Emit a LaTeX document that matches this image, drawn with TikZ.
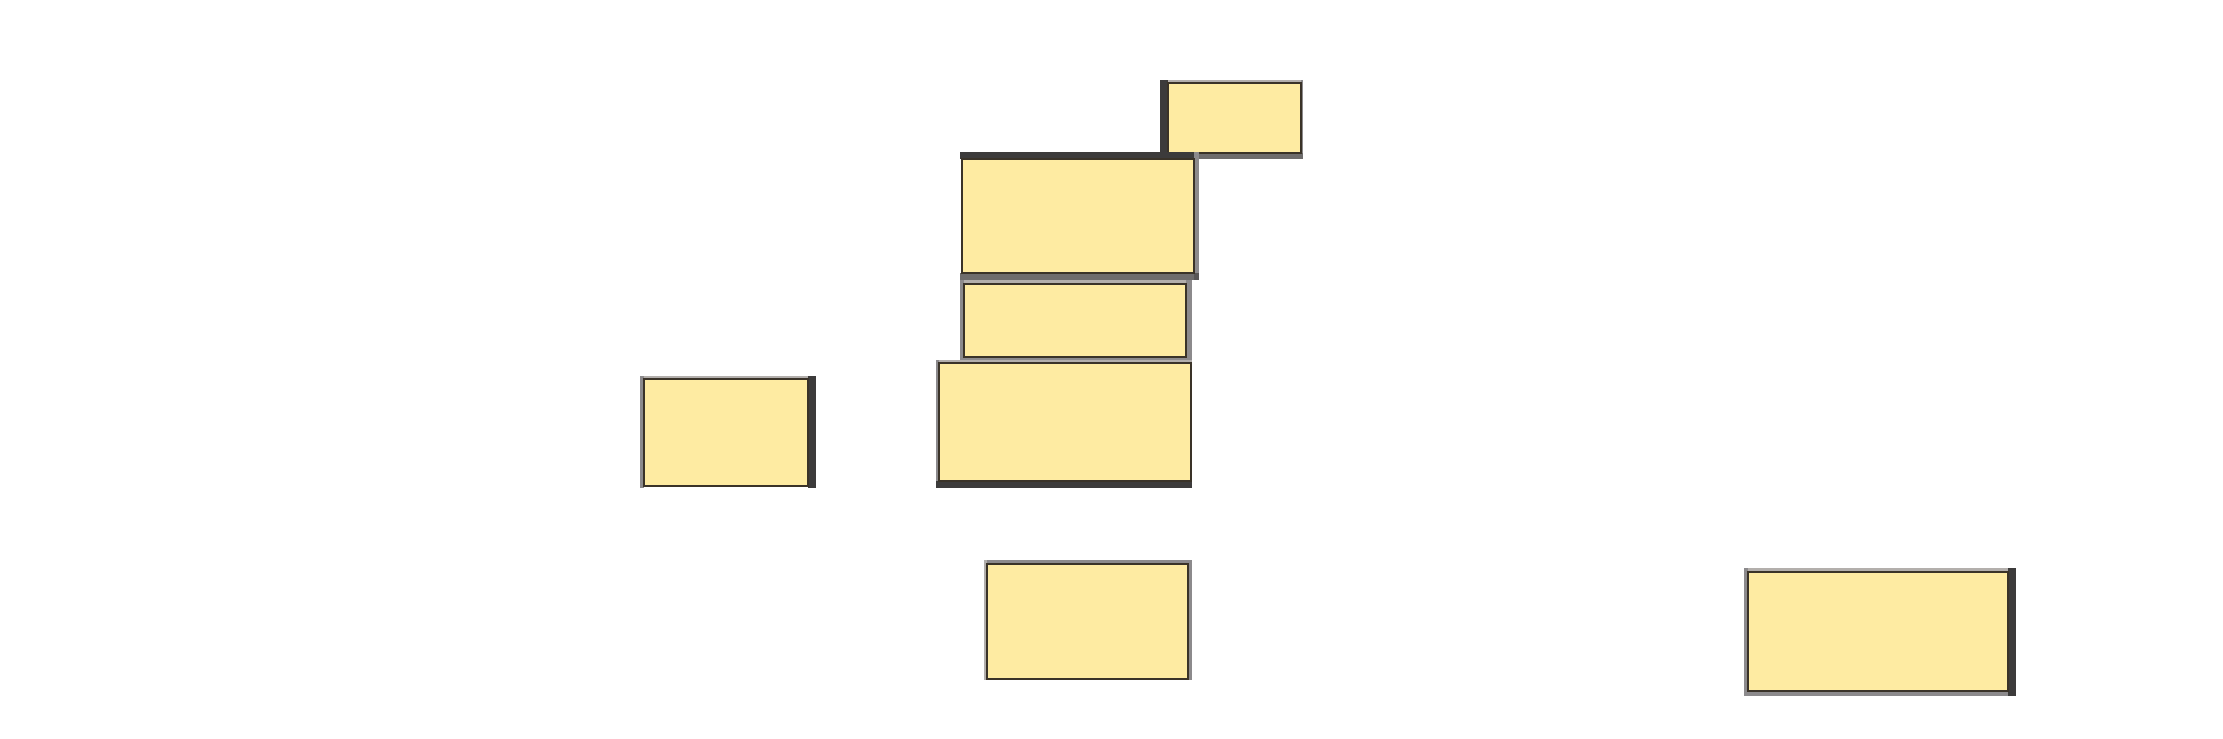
\documentclass[tikz,border=0pt]{standalone}
\usepackage{tikz}
\definecolor{tileyellow}{HTML}{FEEBA2}
\definecolor{tileedge}{HTML}{3A3328}
\definecolor{bandlight}{HTML}{B3AFAC}
\definecolor{bandmid}{HTML}{8C8A8C}
\definecolor{bandgrey}{HTML}{6E6C6C}
\definecolor{banddark}{HTML}{3C3B3B}
\tikzset{
  every picture/.style={line join=miter},
  tile/.style={fill=tileyellow, draw=tileedge, line width=0.6pt},
  lightband/.style={fill=bandlight},
  midband/.style={fill=bandmid},
  greyband/.style={fill=bandgrey},
  darkband/.style={fill=banddark},
}

\begin{document}
\begin{tikzpicture}[x=0.01cm,y=-0.01cm]
\useasboundingbox(0,0) rectangle (2223,739);
% top small tile
\fill[lightband](1160,80) rectangle (1303,83);
\fill[midband](1301,80) rectangle (1303,159);
\fill[greyband](1160,153) rectangle (1303,159);
\fill[darkband](1160,80) rectangle (1168,159);
\draw[tile](1168,83) rectangle (1301,153);
% upper large tile
\fill[darkband](960,152) rectangle (1199,159);
\fill[midband](1194,152) rectangle (1199,280);
\fill[greyband](960,273) rectangle (1199,280);
\fill[bandgrey!80!black](1194,273) rectangle (1199,280);
\draw[tile](962,159) rectangle (1194,273);
% middle small tile
\fill[lightband](960,280) rectangle (1192,284);
\fill[midband](960,280) rectangle (964,360);
\fill[midband](1186,280) rectangle (1192,360);
\fill[midband](960,357) rectangle (1192,360);
\draw[tile](964,284) rectangle (1186,357);
% wide tile
\fill[lightband](936,360) rectangle (1192,363);
\fill[midband](936,360) rectangle (939,488);
\fill[darkband](936,481) rectangle (1192,488);
\draw[tile](939,363) rectangle (1191,481);
% left tile
\fill[lightband](640,376) rectangle (816,379);
\fill[midband](640,376) rectangle (644,488);
\fill[darkband](808,376) rectangle (816,488);
\draw[tile](644,379) rectangle (808,486);
% bottom middle tile
\fill[midband](984,560) rectangle (1192,564);
\fill[lightband](984,560) rectangle (987,680);
\fill[midband](1188,560) rectangle (1192,680);
\draw[tile](987,564) rectangle (1188,679);
% bottom right tile
\fill[lightband](1744,568) rectangle (2016,572);
\fill[midband](1744,568) rectangle (1748,696);
\fill[midband](1744,691) rectangle (2016,696);
\fill[darkband](2008,568) rectangle (2016,696);
\draw[tile](1748,572) rectangle (2008,691);
\end{tikzpicture}
\end{document}
